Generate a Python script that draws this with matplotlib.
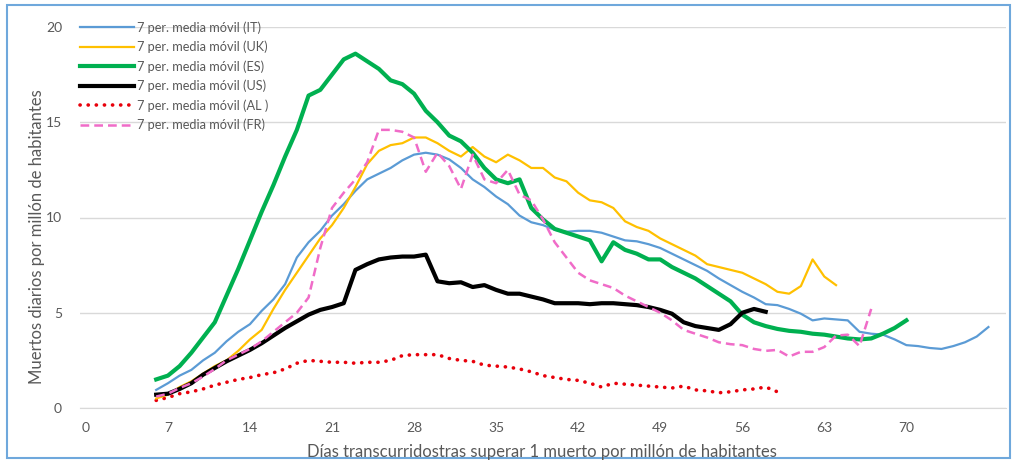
import matplotlib
matplotlib.use("Agg")
import matplotlib.pyplot as plt
from matplotlib.patches import Rectangle

plt.rcParams['font.family'] = ['Lato', 'DejaVu Sans']

start_day = 6
it_vals = [0.95, 1.3, 1.7, 2.0, 2.5, 2.9, 3.5, 4.0, 4.4, 5.1, 5.7, 6.5, 7.9, 8.7, 9.3, 10.1, 10.7, 11.4,
           12.0, 12.3, 12.6, 13.0, 13.3, 13.4, 13.3, 13.05, 12.6, 12.0, 11.6, 11.1, 10.7, 10.1, 9.75, 9.6,
           9.35, 9.25, 9.3, 9.3, 9.2, 9.0, 8.8, 8.75, 8.6, 8.4, 8.1, 7.8, 7.5, 7.2, 6.8, 6.45, 6.1, 5.8,
           5.45, 5.4, 5.2, 4.95, 4.6, 4.7, 4.65, 4.6, 4.0, 3.9, 3.85, 3.6, 3.3, 3.25, 3.15, 3.1, 3.25,
           3.45, 3.75, 4.25]
uk_vals = [0.5, 0.7, 1.1, 1.4, 1.8, 2.2, 2.5, 3.0, 3.6, 4.1, 5.2, 6.2, 7.1, 8.0, 8.9, 9.6, 10.5, 11.6,
           12.8, 13.5, 13.8, 13.9, 14.2, 14.2, 13.9, 13.5, 13.2, 13.7, 13.2, 12.9, 13.3, 13.0, 12.6, 12.6,
           12.1, 11.9, 11.3, 10.9, 10.8, 10.5, 9.8, 9.5, 9.3, 8.9, 8.6, 8.3, 8.0, 7.55, 7.4, 7.25, 7.1,
           6.8, 6.5, 6.1, 6.0, 6.4, 7.8, 6.9, 6.45]
es_vals = [1.5, 1.7, 2.2, 2.9, 3.7, 4.5, 5.9, 7.3, 8.8, 10.3, 11.7, 13.2, 14.6, 16.4, 16.7, 17.5, 18.3,
           18.6, 18.2, 17.8, 17.2, 17.0, 16.5, 15.6, 15.0, 14.3, 14.0, 13.4, 12.6, 12.0, 11.8, 12.0, 10.5,
           9.9, 9.4, 9.2, 9.0, 8.8, 7.7, 8.7, 8.3, 8.1, 7.8, 7.8, 7.4, 7.1, 6.8, 6.4, 6.0, 5.6, 4.9, 4.5,
           4.3, 4.15, 4.05, 4.0, 3.9, 3.85, 3.75, 3.65, 3.6, 3.65, 3.9, 4.2, 4.6]
us_vals = [0.7, 0.75, 1.0, 1.3, 1.75, 2.1, 2.45, 2.75, 3.05, 3.4, 3.8, 4.2, 4.55, 4.9, 5.15, 5.3, 5.5,
           7.25, 7.55, 7.8, 7.9, 7.95, 7.95, 8.05, 6.65, 6.55, 6.6, 6.35, 6.45, 6.2, 6.0, 6.0, 5.85, 5.7,
           5.5, 5.5, 5.5, 5.45, 5.5, 5.5, 5.45, 5.4, 5.3, 5.15, 4.95, 4.5, 4.3, 4.2, 4.1, 4.4, 5.0, 5.2,
           5.05]
al_vals = [0.4, 0.55, 0.75, 0.85, 1.0, 1.2, 1.35, 1.5, 1.6, 1.75, 1.85, 2.05, 2.35, 2.5, 2.45, 2.4, 2.4,
           2.35, 2.4, 2.4, 2.5, 2.75, 2.8, 2.8, 2.8, 2.6, 2.5, 2.45, 2.25, 2.2, 2.15, 2.05, 1.9, 1.7, 1.6,
           1.5, 1.45, 1.3, 1.1, 1.3, 1.25, 1.2, 1.15, 1.1, 1.05, 1.15, 0.95, 0.9, 0.8, 0.85, 0.95, 1.0,
           1.1, 0.85]
fr_vals = [0.6, 0.75, 1.05, 1.3, 1.65, 2.05, 2.5, 2.8, 3.1, 3.5, 4.0, 4.5, 5.0, 5.8, 8.4, 10.5, 11.3,
           12.0, 12.9, 14.6, 14.6, 14.5, 14.2, 12.4, 13.4, 12.7, 11.5, 13.3, 12.0, 11.8, 12.5, 11.2, 10.9,
           9.9, 8.7, 7.9, 7.1, 6.7, 6.5, 6.3, 5.9, 5.6, 5.3, 5.0, 4.6, 4.1, 3.9, 3.7, 3.45, 3.35, 3.3,
           3.1, 3.0, 3.05, 2.7, 2.95, 2.95, 3.2, 3.8, 3.85, 3.25, 5.2]

labels = ["7 per. media móvil (IT)", "7 per. media móvil (UK)", "7 per. media móvil (ES)",
          "7 per. media móvil (US)", "7 per. media móvil (AL )", "7 per. media móvil (FR)"]
x_ticks = [0, 7, 14, 21, 28, 35, 42, 49, 56, 63, 70]
y_ticks = [0, 5, 10, 15, 20]
x_label = "Días transcurridostras superar 1 muerto por millón de habitantes"
y_label = "Muertos diarios por millón de habitantes"

W, H = 1017, 463
fig = plt.figure(figsize=(W / 100, H / 100), dpi=100)
ax = fig.add_axes([80 / W, 1 - 408 / H, (1006 - 80) / W, (408 - 27) / H])

def days(vals):
    return list(range(start_day, start_day + len(vals)))

styles = [
    (it_vals, dict(color='#5B9BD5', lw=1.6, ls='-')),
    (uk_vals, dict(color='#FFC000', lw=1.6, ls='-')),
    (es_vals, dict(color='#00B050', lw=3.0, ls='-')),
    (us_vals, dict(color='#000000', lw=3.0, ls='-')),
    (al_vals, dict(color='#E8000B', lw=2.6, ls=(0, (0.05, 2.2)), dash_capstyle='round')),
    (fr_vals, dict(color='#F06CC8', lw=1.8, ls=(0, (3.5, 2.0)))),
]
handles = []
order_z = [3, 3, 4, 5, 2, 6]
for (vals, st), lab, z in zip(styles, labels, order_z):
    h, = ax.plot(days(vals), vals, label=lab, zorder=z, solid_joinstyle='round', **st)
    handles.append(h)

ax.set_xlim(-0.5, 78.5)
ax.set_ylim(0, 20)
ax.set_xticks(x_ticks)
ax.set_yticks(y_ticks)
ax.yaxis.grid(True, color='#D9D9D9', lw=1.0)
ax.set_axisbelow(True)
for s in ['top', 'right', 'left']:
    ax.spines[s].set_visible(False)
ax.spines['bottom'].set_color('#D9D9D9')
ax.tick_params(axis='both', length=0, colors='#595959', labelsize=10)
ax.tick_params(axis='x', pad=10)
ax.tick_params(axis='y', pad=13)

fig.text(542 / W, 1 - 452 / H, x_label, ha='center', va='center', fontsize=12, color='#595959')
fig.text(37 / W, 1 - 237 / H, y_label, ha='center', va='center', rotation=90, fontsize=12, color='#595959')

leg = fig.legend(handles=handles, labels=labels, loc='upper left',
                 bbox_to_anchor=(80 / W, 1 - 21 / H), bbox_transform=fig.transFigure,
                 frameon=False, fontsize=9.2, labelcolor='#595959', handlelength=4.2,
                 handletextpad=0.25, labelspacing=0.55, borderpad=0, borderaxespad=0)

fig.patches.append(Rectangle((7 / W, 5 / H), (1010 - 7) / W, (458 - 5) / H, transform=fig.transFigure,
                             fill=False, edgecolor='#6FA8DC', lw=1.5))

fig.savefig('out.png', dpi=100)
